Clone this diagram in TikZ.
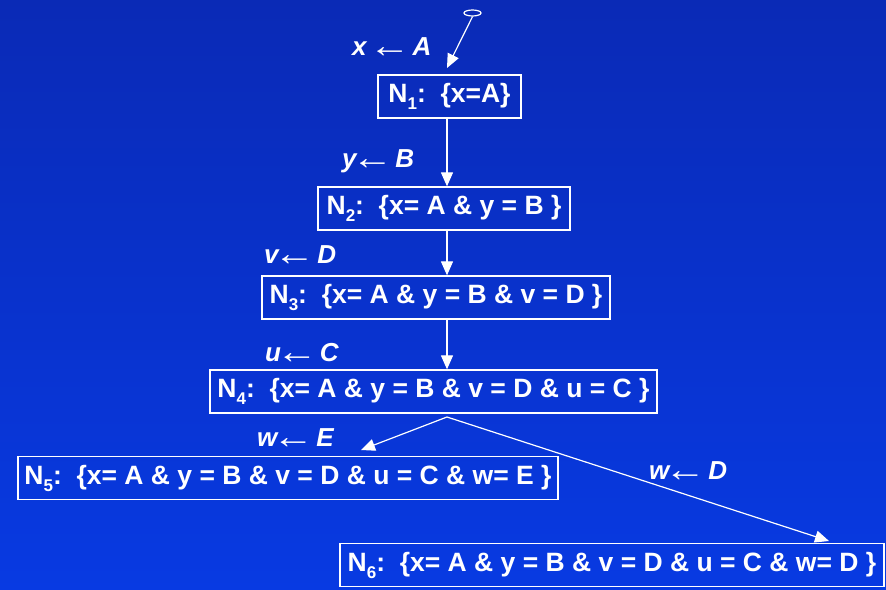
\documentclass[tikz,border=0pt]{standalone}
\usepackage{fontspec}
\setmainfont{Liberation Sans}
\usetikzlibrary{arrows.meta,shapes.geometric}
\definecolor{bgtop}{RGB}{10,42,182}
\definecolor{bgbot}{RGB}{8,58,226}
\newcommand{\Nsb}[1]{N\raisebox{-7pt}{\fontsize{17}{17}\selectfont #1}}
\newcommand{\larr}{\kern-5pt{\upshape\mdseries\raisebox{-2pt}{\scalebox{1.6}[1.35]{←}}}\kern-5pt}
\begin{document}
\begin{tikzpicture}[x=1pt,y=-1pt,
  box/.style={draw=white,line width=1.3pt,text=white,inner sep=0pt,
    minimum height=43pt,font=\fontsize{26.5}{26.5}\selectfont\bfseries},
  lbl/.style={text=white,inner sep=0pt,anchor=base west,font=\fontsize{26}{26}\selectfont\bfseries\itshape},
  arr/.style={draw=white,line width=1.2pt,-{Triangle[length=14pt,width=12pt]}}]
\shade[top color=bgtop,bottom color=bgbot] (0,0) rectangle (886,589);
\useasboundingbox (0,0) rectangle (886,589);
\coordinate (cx) at (447,0);
\node[draw=white,line width=1.2pt,ellipse,minimum width=17pt,minimum height=6pt,inner sep=0pt] (start) at (472.5,13) {};
\coordinate (t1) at (447,68);
\node[box,minimum width=143pt] (N1) at (449.5,96.5) {\Nsb{1}:\ \ \{x=A\}};
\node[box,minimum width=252pt] (N2) at (444,208.5) {\Nsb{2}:\ \ \{x= A \& y = B \}};
\node[box,minimum width=348pt] (N3) at (436,297.5) {\Nsb{3}:\ \ \{x= A \& y = B \& v = D \}};
\node[box,minimum width=447pt] (N4) at (433.5,391.5) {\Nsb{4}:\ \ \{x= A \& y = B \& v = D \& u = C \}};
\node[box,minimum width=540pt] (N5) at (288,478) {\Nsb{5}:\ \ \{x= A \& y = B \& v = D \& u = C \& w= E \}};
\node[box,minimum width=544pt] (N6) at (612,565) {\Nsb{6}:\ \ \{x= A \& y = B \& v = D \& u = C \& w= D \}};
\coordinate (s4) at (447,417);
\coordinate (t5) at (361,450);
\coordinate (t6) at (829,541);
\draw[arr] (start.south) -- (t1);
\draw[arr] (N1.south -| cx) -- (N2.north -| cx);
\draw[arr] (N2.south -| cx) -- (N3.north -| cx);
\draw[arr] (N3.south -| cx) -- (N4.north -| cx);
\draw[arr] (s4) -- (t5);
\draw[arr] (s4) -- (t6);
\node[lbl] (l1) at (352,55) {x \larr\ A};
\node[lbl] (l2) at (342,167) {y\larr\ B};
\node[lbl] (l3) at (264,263) {v\larr\ D};
\node[lbl] (l4) at (265,361) {u\larr\ C};
\node[lbl] (l5) at (257,446) {w\larr\ E};
\node[lbl] (l6) at (649,479) {w\larr\ D};
\end{tikzpicture}
\end{document}
